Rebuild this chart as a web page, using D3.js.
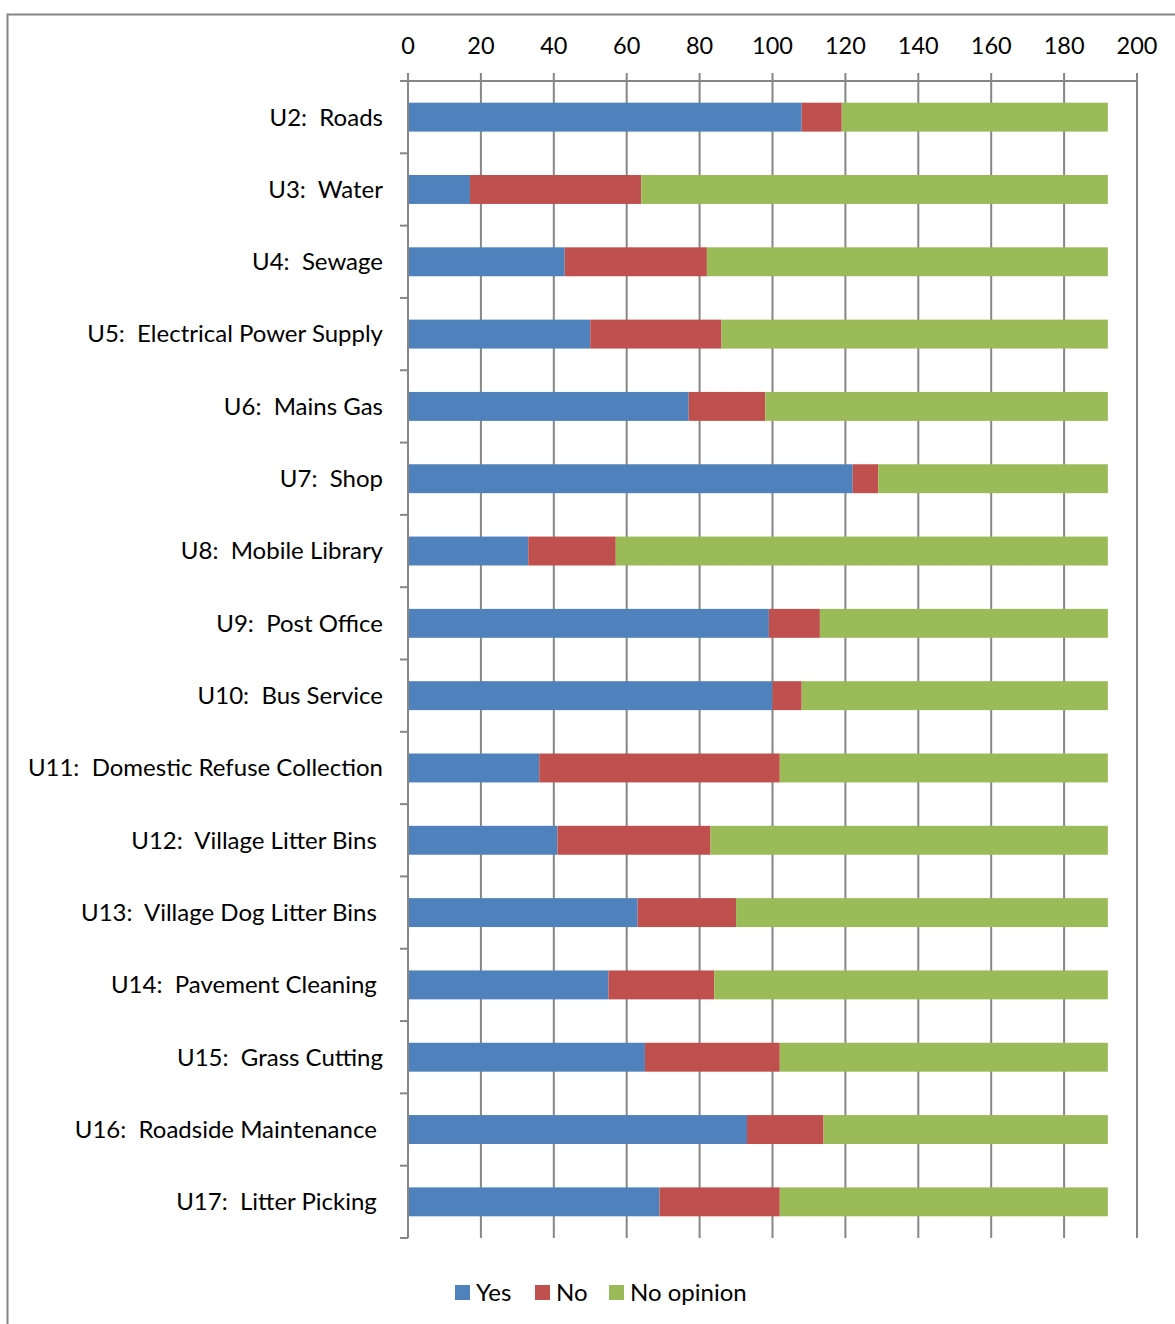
<!DOCTYPE html>
<html lang="en">
<head>
<meta charset="utf-8">
<title>Utilities survey</title>
<script src="https://cdn.jsdelivr.net/npm/d3@7"></script>
<style>
  body { margin: 0; background: #fff; }
  svg text { font-family: Lato, "Open Sans", sans-serif; fill: #000; }
</style>
</head>
<body>
<script>
// labels (trailing spaces kept as in the original sheet)
var categories = [
  "U2:  Roads", "U3:  Water", "U4:  Sewage", "U5:  Electrical Power Supply",
  "U6:  Mains Gas", "U7:  Shop", "U8:  Mobile Library", "U9:  Post Office",
  "U10:  Bus Service", "U11:  Domestic Refuse Collection", "U12:  Village Litter Bins ",
  "U13:  Village Dog Litter Bins ", "U14:  Pavement Cleaning ", "U15:  Grass Cutting",
  "U16:  Roadside Maintenance ", "U17:  Litter Picking "
];
var yes       = [108, 17, 43, 50, 77, 122, 33, 99, 100, 36, 41, 63, 55, 65, 93, 69];
var no        = [11, 47, 39, 36, 21, 7, 24, 14, 8, 66, 42, 27, 29, 37, 21, 33];
var noOpinion = [73, 128, 110, 106, 94, 63, 135, 79, 84, 90, 109, 102, 108, 90, 78, 90];
var seriesNames = ["Yes", "No", "No opinion"];
var xTicks = [0, 20, 40, 60, 80, 100, 120, 140, 160, 180, 200];

var colors = ["#4F81BD", "#C0504D", "#9BBB59"];
var grey = "#868686";

var W = 1175, H = 1324;
var plotL = 408, plotR = 1137, plotT = 81, plotB = 1238;

var svg = d3.select("body").append("svg")
  .attr("width", W).attr("height", H);

// outer frame
svg.append("rect")
  .attr("x", 7.5).attr("y", 14.5)
  .attr("width", W + 20).attr("height", H + 20)
  .attr("fill", "none").attr("stroke", grey).attr("stroke-width", 2);

var x = d3.scaleLinear().domain([0, 200]).range([plotL, plotR]);
var y = d3.scaleBand().domain(categories).range([plotT, plotB]).paddingInner(0.6).paddingOuter(0.3);
var step = (plotB - plotT) / categories.length;

// vertical gridlines
svg.append("g").selectAll("line")
  .data(xTicks)
  .join("line")
  .attr("x1", d => x(d)).attr("x2", d => x(d))
  .attr("y1", plotT - 8).attr("y2", plotB)
  .attr("stroke", grey).attr("stroke-width", 2);

// top axis line
svg.append("line")
  .attr("x1", plotL - 8).attr("x2", plotR)
  .attr("y1", plotT).attr("y2", plotT)
  .attr("stroke", grey).attr("stroke-width", 2);

svg.append("g").selectAll("text")
  .data(xTicks)
  .join("text")
  .attr("x", d => x(d)).attr("y", 54)
  .attr("text-anchor", "middle")
  .style("font-size", "23.5px")
  .text(d => d);

// stacked bars
var rows = categories.map((c, i) => ({ cat: c, vals: [yes[i], no[i], noOpinion[i]] }));
var stack = d3.stack().keys([0, 1, 2]).value((d, k) => d.vals[k]);
var layers = stack(rows);

svg.append("g").selectAll("g")
  .data(layers)
  .join("g")
  .attr("fill", (d, i) => colors[i])
  .selectAll("rect")
  .data(d => d)
  .join("rect")
  .attr("x", d => x(d[0]))
  .attr("width", d => x(d[1]) - x(d[0]))
  .attr("y", d => y(d.data.cat))
  .attr("height", y.bandwidth());

// left axis with category ticks
svg.append("line")
  .attr("x1", plotL).attr("x2", plotL)
  .attr("y1", plotT).attr("y2", plotB)
  .attr("stroke", grey).attr("stroke-width", 2);

svg.append("g").selectAll("line")
  .data(d3.range(categories.length + 1))
  .join("line")
  .attr("x1", plotL - 8).attr("x2", plotL)
  .attr("y1", i => plotT + i * step).attr("y2", i => plotT + i * step)
  .attr("stroke", grey).attr("stroke-width", 2);

svg.append("g").selectAll("text")
  .data(categories)
  .join("text")
  .attr("x", 383)
  .attr("y", d => y(d) + y.bandwidth() / 2)
  .attr("dy", "0.35em")
  .attr("text-anchor", "end")
  .attr("xml:space", "preserve")
  .style("white-space", "pre")
  .style("font-size", "24px")
  .text(d => d);

// legend
var legendX = [455, 535, 609];
var lg = svg.append("g").selectAll("g")
  .data(seriesNames)
  .join("g")
  .attr("transform", (d, i) => "translate(" + legendX[i] + ",1285)");
lg.append("rect").attr("width", 15).attr("height", 15).attr("fill", (d, i) => colors[i]);
lg.append("text").attr("x", 21).attr("y", 7.5).attr("dy", "0.35em")
  .style("font-size", "24px").text(d => d);
</script>
</body>
</html>
